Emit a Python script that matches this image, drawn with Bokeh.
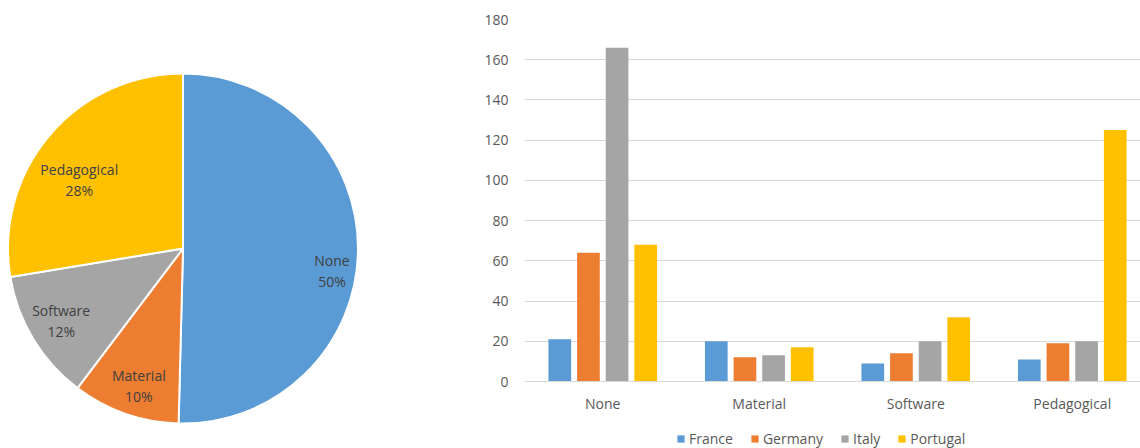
import math
from bokeh.plotting import figure
from bokeh.models import Range1d, ColumnDataSource, Legend, LegendItem, FixedTicker
from bokeh.transform import dodge
from bokeh.layouts import row, column
from bokeh.embed import file_html
from bokeh.resources import INLINE
from bokeh.core.properties import value

# ---------------- data ----------------
categories = ["None", "Material", "Software", "Pedagogical"]
countries = ["France", "Germany", "Italy", "Portugal"]
france = [21, 20, 9, 11]
germany = [64, 12, 14, 19]
italy = [166, 13, 20, 20]
portugal = [68, 17, 32, 125]
pie_share = [50.4, 9.9, 12.1, 27.6]
y_ticks = [0, 20, 40, 60, 80, 100, 120, 140, 160, 180]

# ---------------- style ----------------
COLORS = ["#5B9BD5", "#ED7D31", "#A5A5A5", "#FFC000"]
FONT = "Open Sans"
TXT = "#595959"
PIE_TXT = "#404040"
GRID = "#D9D9D9"
LABEL_NUDGE = [(9, 21), (2, 5), (-2, 0), (3, 22)]  # px nudges of pie labels

# ---------------- pie ----------------
W1, H = 380, 448
p1 = figure(width=W1, height=H, x_range=Range1d(0, W1), y_range=Range1d(0, H),
            x_axis_type=None, y_axis_type=None, toolbar_location=None,
            output_backend="svg", min_border=0, outline_line_color=None)
cx, cy, R = 182.5, 200.0, 175.0
total = sum(pie_share)
starts, ends, lx, ly, names, pcts = [], [], [], [], [], []
cum = 0.0
for name, s in zip(categories, pie_share):
    f0 = cum / total
    f1 = (cum + s) / total
    cum += s
    starts.append(math.pi / 2 - 2 * math.pi * f0)
    ends.append(math.pi / 2 - 2 * math.pi * f1)
    mid = math.pi / 2 - math.pi * (f0 + f1)
    lx.append(cx + 0.8 * R * math.cos(mid))
    ly.append(cy + 0.8 * R * math.sin(mid))
    names.append(name)
    pcts.append(f"{round(s)}%")
psrc = ColumnDataSource(dict(start=starts, end=ends, color=COLORS,
                             lx=lx, ly=ly, names=names, pcts=pcts,
                             dx=[n[0] for n in LABEL_NUDGE],
                             dy1=[n[1] - 10.5 for n in LABEL_NUDGE],
                             dy2=[n[1] + 10.5 for n in LABEL_NUDGE]))
p1.wedge(x=cx, y=cy, radius=R, start_angle="start", end_angle="end",
         direction="clock", fill_color="color", line_color="white", line_width=2,
         source=psrc)
for col, dyc in (("names", "dy1"), ("pcts", "dy2")):
    p1.text(x="lx", y="ly", text=col, x_offset="dx", y_offset=dyc, source=psrc,
            text_align="center", text_baseline="middle", text_font=value(FONT),
            text_font_size="14px", text_color=PIE_TXT)

# ---------------- bars ----------------
W2 = 1140 - W1
H2 = 418
p2 = figure(width=W2, height=H2, x_range=Range1d(-0.5, 3.436), y_range=Range1d(0, 180),
            toolbar_location=None, output_backend="svg",
            min_border_left=144, min_border_right=0, min_border_top=19,
            min_border_bottom=H2 - 381, outline_line_color=None)
bsrc = ColumnDataSource(dict(xi=list(range(len(categories))), France=france,
                             Germany=germany, Italy=italy, Portugal=portugal))
stride, bw = 0.183, 0.145
for i, (c, col) in enumerate(zip(countries, COLORS)):
    p2.vbar(x=dodge("xi", (i - 1.5) * stride), top=c, width=bw, bottom=0,
            fill_color=col, line_color=None, source=bsrc)

p2.xgrid.visible = False
p2.ygrid.grid_line_color = GRID
p2.ygrid.grid_line_width = 1
p2.yaxis.ticker = FixedTicker(ticks=y_ticks)
p2.xaxis.ticker = FixedTicker(ticks=list(range(len(categories))))
p2.xaxis.major_label_overrides = {i: c for i, c in enumerate(categories)}
for ax in (p2.xaxis[0], p2.yaxis[0]):
    ax.major_tick_line_color = None
    ax.minor_tick_line_color = None
    ax.major_tick_out = 0
    ax.minor_tick_out = 0
    ax.major_label_text_font = FONT
    ax.major_label_text_font_size = "14px"
    ax.major_label_text_color = TXT
p2.yaxis.axis_line_color = None
p2.yaxis.major_label_standoff = 16
p2.xaxis.axis_line_color = GRID
p2.xaxis.major_label_standoff = 12

# ---------------- legend strip ----------------
# zero-size copies of the series (nothing drawn): only their legend swatches show
H3 = H - H2
p3 = figure(width=W2, height=H3, x_range=Range1d(-0.5, 3.5), y_range=Range1d(0, 1),
            x_axis_type=None, y_axis_type=None, toolbar_location=None,
            output_backend="svg", min_border=0, outline_line_color=None)
p3.grid.visible = False
leg_renderers = []
for c, col in zip(countries, COLORS):
    r = p3.vbar(x="xi", top=c, bottom=c, width=0, fill_color=col, line_color=None,
                source=bsrc)
    leg_renderers.append(r)
legend = Legend(items=[LegendItem(label=c, renderers=[r]) for c, r in zip(countries, leg_renderers)],
                orientation="horizontal", location=(296, 0),
                glyph_width=9, glyph_height=9, label_standoff=4, spacing=17,
                label_text_font=FONT, label_text_font_size="14px", label_text_color=TXT,
                border_line_color=None, background_fill_alpha=0, padding=0, margin=0)
p3.add_layout(legend)

for p in (p1, p2, p3):
    try:
        p.frame_align = False
    except Exception:
        pass

layout = row(p1, column(p2, p3))
open("out.html", "w").write(file_html(layout, INLINE))
